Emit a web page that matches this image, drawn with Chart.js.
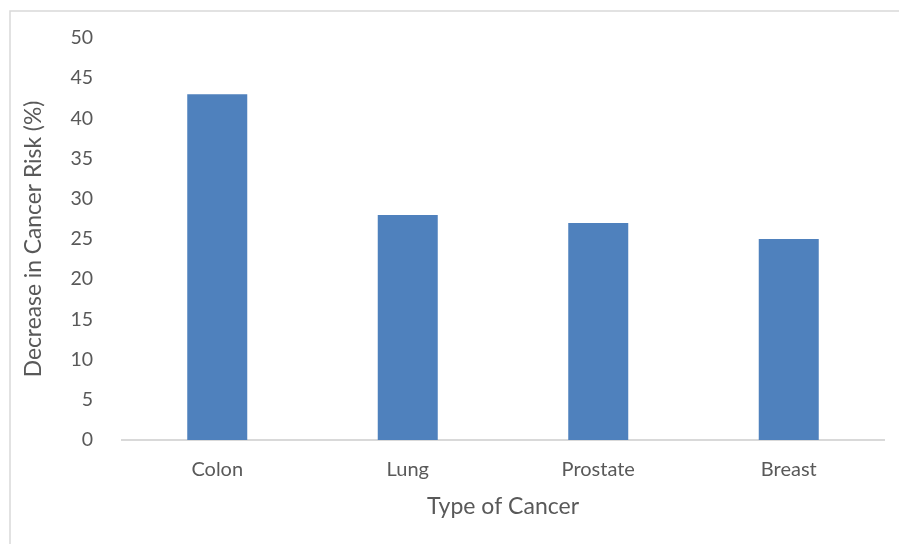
<!DOCTYPE html>
<html>
<head>
<meta charset="utf-8">
<script src="https://cdn.jsdelivr.net/npm/chart.js@4/dist/chart.umd.min.js"></script>
<style>
  html, body { margin: 0; padding: 0; background: #ffffff; }
  #wrap { width: 899px; height: 544px; position: relative; }
</style>
</head>
<body>
<div id="wrap"><canvas id="c"></canvas></div>
<script>
// Cancer types and the reported decrease in risk (%)
const cancerTypes = ['Colon', 'Lung', 'Prostate', 'Breast'];
const riskDecrease = [43, 28, 27, 25];
const yTickStep = 5;
const yMin = 0;
const yMax = 50;

const FONT = 'Lato, Carlito, Calibri, "Liberation Sans", sans-serif';
const TEXT = '#595959';

// thin grey frame around the chart object
const framePlugin = {
  id: 'frame',
  beforeDraw(chart) {
    const ctx = chart.ctx;
    ctx.save();
    ctx.fillStyle = '#ffffff';
    ctx.fillRect(0, 0, chart.width, chart.height);
    ctx.strokeStyle = '#d9d9d9';
    ctx.lineWidth = 1.5;
    ctx.strokeRect(10, 11, chart.width + 20, chart.height + 20);
    ctx.restore();
  }
};

new Chart(document.getElementById('c'), {
  type: 'bar',
  data: {
    labels: cancerTypes,
    datasets: [{
      data: riskDecrease,
      backgroundColor: '#4f81bd',
      borderWidth: 0,
      categoryPercentage: 1,
      barPercentage: 0.315
    }]
  },
  options: {
    responsive: true,
    maintainAspectRatio: false,
    animation: false,
    events: [],
    layout: { padding: { left: 20, right: 15, top: 38, bottom: 24 } },
    plugins: { legend: { display: false }, tooltip: { enabled: false } },
    scales: {
      x: {
        grid: { display: false },
        border: { display: true, color: '#d9d9d9', width: 2 },
        ticks: { color: TEXT, font: { family: FONT, size: 20 }, padding: 10 },
        title: {
          display: true,
          text: 'Type of Cancer',
          color: TEXT,
          font: { family: FONT, size: 23 },
          padding: { top: 0, bottom: 0 }
        },
        afterFit(scale) { scale.height = 80; }
      },
      y: {
        min: yMin,
        max: yMax,
        grid: { display: false },
        border: { display: false },
        ticks: {
          stepSize: yTickStep,
          color: TEXT,
          font: { family: FONT, size: 19.5 },
          padding: 21
        },
        title: {
          display: true,
          text: 'Decrease in Cancer Risk (%)',
          color: TEXT,
          font: { family: FONT, size: 22.8 },
          padding: { top: 0, bottom: 0 }
        },
        afterFit(scale) { scale.width = 102; }
      }
    }
  },
  plugins: [framePlugin]
});
</script>
</body>
</html>
